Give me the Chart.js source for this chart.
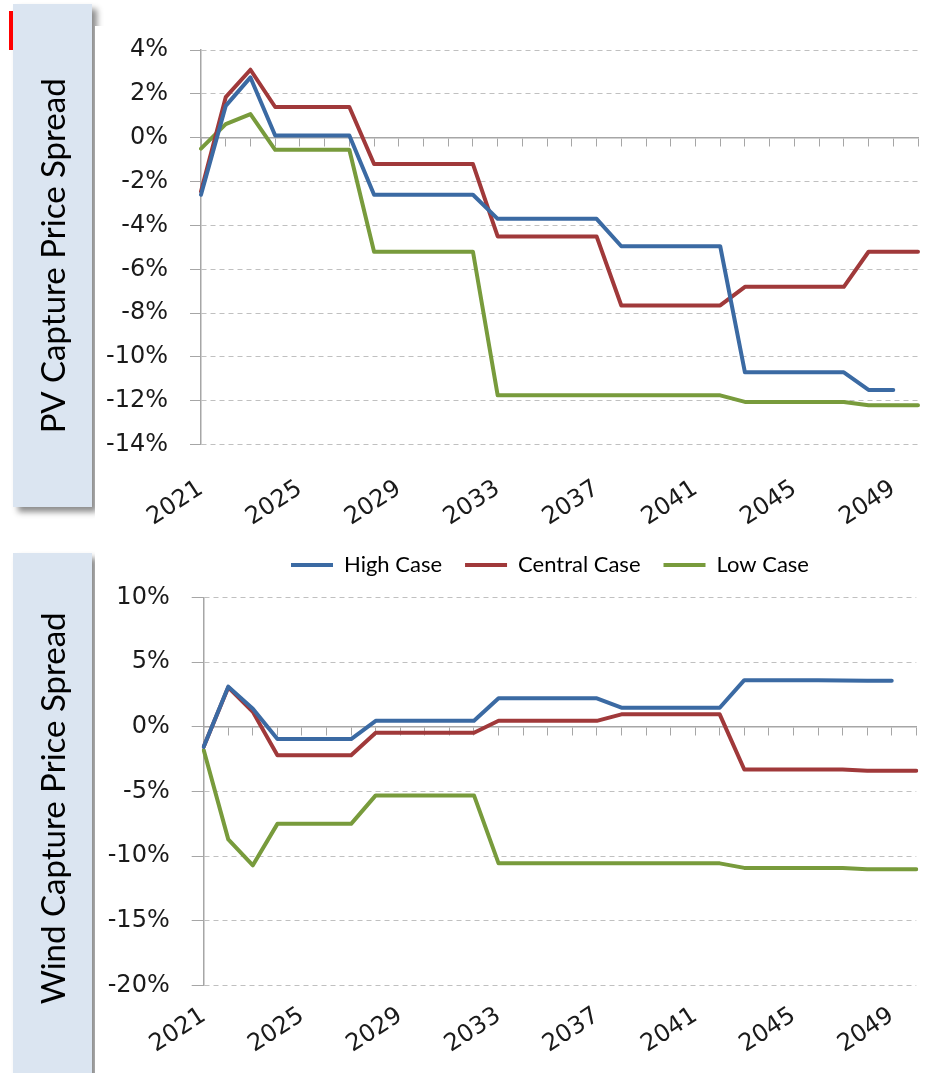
<!DOCTYPE html>
<html>
<head>
<meta charset="utf-8">
<script src="https://cdn.jsdelivr.net/npm/chart.js@4.4.1/dist/chart.umd.min.js"></script>
<style>
  html, body { margin: 0; padding: 0; background: #fff; }
  body { width: 926px; height: 1073px; position: relative; overflow: hidden; }
  .box { position: absolute; left: 13px; width: 79px; background: #dbe5f1; box-shadow: 5px 5px 6px rgba(0,0,0,0.45); z-index: 1; }
  #pvBox { top: 4px; height: 503px; }
  #windBox { top: 553px; height: 560px; }
  #sheet { position: absolute; left: 95px; top: 26px; right: 0; bottom: 0; background: #fff; z-index: 2; }
  #mark { position: absolute; left: 9px; top: 11px; width: 4px; height: 39px; background: #f00; z-index: 3; }
  .wrap { position: absolute; left: 0; width: 926px; z-index: 4; }
  #pvWrap { top: 0; height: 535px; }
  #windWrap { top: 535px; height: 538px; }
</style>
</head>
<body>
<div class="box" id="pvBox"></div>
<div class="box" id="windBox"></div>
<div id="sheet"></div>
<div id="mark"></div>
<div class="wrap" id="pvWrap"><canvas id="pvChart"></canvas></div>
<div class="wrap" id="windWrap"><canvas id="windChart"></canvas></div>
<script>
var years = ['2021','2022','2023','2024','2025','2026','2027','2028','2029','2030',
             '2031','2032','2033','2034','2035','2036','2037','2038','2039','2040',
             '2041','2042','2043','2044','2045','2046','2047','2048','2049','2050'];
var yearLabels = ['2021','2025','2029','2033','2037','2041','2045','2049'];

// PV capture price spread, %
var pvHigh = [-2.6, 1.45, 2.75, 0.1, 0.1, 0.1, 0.1, -2.6, -2.6, -2.6,
              -2.6, -2.6, -3.7, -3.7, -3.7, -3.7, -3.7, -4.95, -4.95, -4.95,
              -4.95, -4.95, -10.7, -10.7, -10.7, -10.7, -10.7, -11.5, -11.5, null];
var pvCentral = [-2.45, 1.85, 3.1, 1.4, 1.4, 1.4, 1.4, -1.2, -1.2, -1.2,
                 -1.2, -1.2, -4.5, -4.5, -4.5, -4.5, -4.5, -7.65, -7.65, -7.65,
                 -7.65, -7.65, -6.8, -6.8, -6.8, -6.8, -6.8, -5.2, -5.2, -5.2];
var pvLow = [-0.5, 0.62, 1.08, -0.55, -0.55, -0.55, -0.55, -5.2, -5.2, -5.2,
             -5.2, -5.2, -11.75, -11.75, -11.75, -11.75, -11.75, -11.75, -11.75, -11.75,
             -11.75, -11.75, -12.05, -12.05, -12.05, -12.05, -12.05, -12.2, -12.2, -12.2];

// Wind capture price spread, %
var windHigh = [-1.55, 3.1, 1.4, -0.95, -0.95, -0.95, -0.95, 0.46, 0.46, 0.46,
                0.46, 0.46, 2.2, 2.2, 2.2, 2.2, 2.2, 1.47, 1.47, 1.47,
                1.47, 1.47, 3.6, 3.6, 3.6, 3.6, 3.58, 3.55, 3.55, null];
var windCentral = [-1.55, 3.05, 1.15, -2.2, -2.2, -2.2, -2.2, -0.46, -0.46, -0.46,
                   -0.46, -0.46, 0.46, 0.46, 0.46, 0.46, 0.46, 0.96, 0.96, 0.96,
                   0.96, 0.96, -3.3, -3.3, -3.3, -3.3, -3.3, -3.4, -3.4, -3.4];
var windLow = [-1.8, -8.7, -10.7, -7.5, -7.5, -7.5, -7.5, -5.3, -5.3, -5.3,
               -5.3, -5.3, -10.55, -10.55, -10.55, -10.55, -10.55, -10.55, -10.55, -10.55,
               -10.55, -10.55, -10.9, -10.9, -10.9, -10.9, -10.9, -11.0, -11.0, -11.0];

var pvTicks = { min: -14, max: 4, step: 2 };
var windTicks = { min: -20, max: 10, step: 5 };

var blue = '#3b6aa3', red = '#a0393a', green = '#789b3c';
var axisGray = '#a6a6a6', gridGray = '#c0c0c0';
var tickFont = { family: 'DejaVu Sans', size: 24 };

function series(label, data, color) {
    return {
        label: label, data: data,
        borderColor: color, backgroundColor: color,
        borderWidth: 4, pointRadius: 0, tension: 0,
        borderCapStyle: 'round', borderJoinStyle: 'round',
        spanGaps: false
    };
}

function buildOptions(o) {
    return {
        responsive: true,
        maintainAspectRatio: false,
        animation: false,
        layout: { padding: o.padding },
        plugins: {
            legend: o.legend,
            tooltip: { enabled: false }
        },
        scales: {
            // year labels under the plot
            x: {
                type: 'category',
                position: 'bottom',
                grid: { display: false, drawTicks: true, tickLength: o.labelPad },
                border: { display: false },
                ticks: {
                    autoSkip: false, minRotation: 33, maxRotation: 33,
                    padding: 0, font: tickFont, color: '#1a1a1a',
                    callback: function (v) {
                        var l = this.getLabelForValue(v);
                        return yearLabels.indexOf(l) >= 0 ? l : null;
                    }
                },
                afterFit: function (s) { s.height = o.xHeight; }
            },
            // axis line with tick marks crossing at 0%
            x0: {
                type: 'category',
                position: { y: 0 },
                grid: { drawOnChartArea: false, drawTicks: true, tickLength: 8, color: axisGray, lineWidth: 1 },
                border: { display: true, color: axisGray, width: 1.5 },
                ticks: { display: false }
            },
            y: {
                min: o.ticks.min, max: o.ticks.max,
                ticks: {
                    stepSize: o.ticks.step, padding: o.yPad, font: tickFont, color: '#1a1a1a',
                    callback: function (v) { return v + '%'; }
                },
                grid: { color: gridGray, lineWidth: 1, tickLength: o.tickLen, tickColor: axisGray, tickBorderDash: [] },
                border: { display: true, color: axisGray, width: 1.5, dash: [5, 4] },
                title: {
                    display: true, text: o.title, color: '#000',
                    font: { family: 'Lato', size: 33 },
                    padding: { top: 35, bottom: 0 }
                },
                afterFit: function (s) { s.width = o.yWidth; }
            }
        }
    };
}

var legendNudge = {
    id: 'legendNudge',
    afterLayout: function (chart, args, opts) {
        var lg = chart.legend;
        if (!lg || !opts.dy) return;
        lg.top += opts.dy; lg.bottom += opts.dy;
        lg.left += opts.dx; lg.right += opts.dx;
    }
};

var pvOpts = buildOptions({
    padding: { top: 50, right: 8, left: 0, bottom: 0 },
    legend: { display: false },
    ticks: pvTicks, title: 'PV Capture Price Spread  ',
    yWidth: 201, yPad: 22, tickLen: 11, xHeight: 90.3, labelPad: 30
});

new Chart(document.getElementById('pvChart'), {
    type: 'line',
    data: {
        labels: years,
        datasets: [
            series('High Case', pvHigh, blue),
            series('Central Case', pvCentral, red),
            series('Low Case', pvLow, green)
        ]
    },
    options: pvOpts
});

var windOpts = buildOptions({
    padding: { top: 7.3, right: 9.7, left: 0, bottom: 0 },
    legend: {
        display: true, position: 'top', fullSize: false,
        labels: {
            usePointStyle: true, pointStyle: 'line', pointStyleWidth: 42,
            boxHeight: 4, padding: 23, color: '#000',
            font: { family: 'Lato', size: 22 }
        }
    },
    ticks: windTicks, title: 'Wind Capture Price Spread    ',
    yWidth: 203.7, yPad: 22, tickLen: 12, xHeight: 87.3, labelPad: 16
});
windOpts.plugins.legendNudge = { dx: -10, dy: -11.3 };

new Chart(document.getElementById('windChart'), {
    type: 'line',
    data: {
        labels: years,
        datasets: [
            series('High Case', windHigh, blue),
            series('Central Case', windCentral, red),
            series('Low Case', windLow, green)
        ]
    },
    options: windOpts,
    plugins: [legendNudge]
});
</script>
</body>
</html>
